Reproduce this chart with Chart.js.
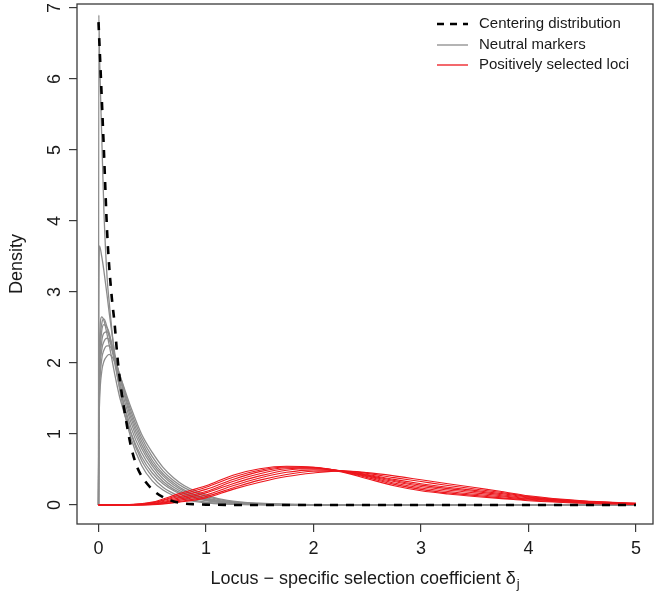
<!DOCTYPE html>
<html lang="en">

<head>
  <meta charset="UTF-8">
  <meta name="viewport" content="width=device-width, initial-scale=1.0">
  <title>Selection coefficient densities</title>
  <script src="https://cdn.jsdelivr.net/npm/chart.js@4/dist/chart.umd.min.js"></script>
  <style>
    html, body {
      margin: 0;
      padding: 0;
      background: #fff;
    }
    .plot-container {
      width: 654px;
      height: 591px;
      position: relative;
    }
  </style>
</head>

<body>
  <div class="plot-container">
    <canvas id="plot"></canvas>
  </div>

  <script>
    const xTicks = [0, 1, 2, 3, 4, 5];
    const yTicks = [0, 1, 2, 3, 4, 5, 6, 7];
    const legendLabels = ['Centering distribution', 'Neutral markers', 'Positively selected loci'];

    // centering distribution (dashed)
    const centeringX = [0, 0.02, 0.05, 0.08, 0.1, 0.125, 0.15, 0.175, 0.2, 0.25, 0.3, 0.35, 0.4, 0.5, 0.6, 0.7, 0.8, 0.9, 1.0, 1.5, 2, 3, 4, 5];
    const centeringY = [6.8, 6.1, 5.0, 3.85, 3.35, 2.9, 2.55, 2.1, 1.75, 1.25, 0.84, 0.57, 0.41, 0.22, 0.11, 0.05, 0.02, 0.01, 0.005, 0, 0, 0, 0, 0];

    // neutral markers (grey)
    const neutralX = [0, 0.003, 0.01, 0.03, 0.05, 0.08, 0.1, 0.15, 0.2, 0.3, 0.4, 0.5, 0.6, 0.7, 0.8, 1.0, 1.2, 1.5, 2.0, 3.0, 4.0, 5.0];
    const neutral1 = [0, 6.9, 6.3, 5.2, 4.15, 3.2, 2.85, 2.1, 1.6, 0.95, 0.56, 0.34, 0.21, 0.13, 0.08, 0.03, 0.012, 0.003, 0, 0, 0, 0];
    const neutral2 = [0, 2.8, 3.65, 3.5, 3.3, 2.95, 2.7, 2.15, 1.68, 1.02, 0.63, 0.4, 0.25, 0.16, 0.1, 0.04, 0.016, 0.004, 0.001, 0, 0, 0];
    const neutral3 = [0, 1.6, 2.3, 2.65, 2.6, 2.4, 2.25, 1.85, 1.5, 1.02, 0.68, 0.45, 0.3, 0.2, 0.13, 0.06, 0.025, 0.008, 0.001, 0, 0, 0];
    const neutral4 = [0, 1.4, 2.1, 2.55, 2.62, 2.5, 2.38, 2.0, 1.63, 1.1, 0.74, 0.5, 0.33, 0.22, 0.15, 0.07, 0.03, 0.01, 0.002, 0, 0, 0];
    const neutral5 = [0, 1.3, 1.95, 2.45, 2.54, 2.5, 2.42, 2.08, 1.72, 1.17, 0.8, 0.55, 0.37, 0.25, 0.17, 0.08, 0.035, 0.012, 0.002, 0, 0, 0];
    const neutral6 = [0, 1.2, 1.85, 2.3, 2.42, 2.44, 2.38, 2.1, 1.78, 1.23, 0.85, 0.59, 0.41, 0.28, 0.19, 0.09, 0.04, 0.014, 0.003, 0, 0, 0];
    const neutral7 = [0, 1.1, 1.75, 2.18, 2.3, 2.35, 2.32, 2.1, 1.8, 1.28, 0.9, 0.63, 0.44, 0.31, 0.21, 0.1, 0.045, 0.016, 0.003, 0, 0, 0];
    const neutral8 = [0, 1.0, 1.6, 2.05, 2.18, 2.24, 2.24, 2.08, 1.82, 1.33, 0.95, 0.68, 0.48, 0.34, 0.24, 0.12, 0.055, 0.02, 0.004, 0, 0, 0];
    const neutral9 = [0, 0.9, 1.45, 1.88, 2.02, 2.1, 2.12, 2.02, 1.82, 1.38, 1.0, 0.74, 0.53, 0.38, 0.27, 0.14, 0.065, 0.024, 0.005, 0, 0, 0];

    // positively selected loci (red)
    const selectedX = [0, 0.25, 0.5, 0.75, 1.0, 1.25, 1.5, 1.75, 2.0, 2.25, 2.5, 2.75, 3.0, 3.25, 3.5, 3.75, 4.0, 4.5, 5.0];
    const selected1 = [0, 0.003, 0.04, 0.16, 0.27, 0.42, 0.51, 0.545, 0.53, 0.47, 0.37, 0.27, 0.2, 0.155, 0.12, 0.09, 0.06, 0.025, 0.01];
    const selected2 = [0, 0.002, 0.033, 0.14, 0.25, 0.39, 0.49, 0.535, 0.53, 0.475, 0.385, 0.29, 0.22, 0.17, 0.135, 0.1, 0.07, 0.03, 0.012];
    const selected3 = [0, 0.002, 0.027, 0.12, 0.22, 0.36, 0.47, 0.525, 0.525, 0.48, 0.4, 0.31, 0.24, 0.19, 0.15, 0.115, 0.08, 0.035, 0.014];
    const selected4 = [0, 0.002, 0.02, 0.1, 0.19, 0.33, 0.44, 0.51, 0.52, 0.48, 0.41, 0.33, 0.26, 0.21, 0.17, 0.13, 0.09, 0.04, 0.016];
    const selected5 = [0, 0.001, 0.016, 0.08, 0.17, 0.3, 0.41, 0.49, 0.51, 0.48, 0.42, 0.345, 0.28, 0.23, 0.19, 0.145, 0.1, 0.045, 0.018];
    const selected6 = [0, 0.001, 0.012, 0.065, 0.14, 0.27, 0.38, 0.46, 0.495, 0.48, 0.43, 0.36, 0.3, 0.25, 0.205, 0.16, 0.11, 0.05, 0.02];
    const selected7 = [0, 0.001, 0.008, 0.05, 0.12, 0.24, 0.35, 0.43, 0.475, 0.48, 0.445, 0.385, 0.33, 0.275, 0.225, 0.175, 0.12, 0.055, 0.022];
    const selected8 = [0, 0.001, 0.005, 0.04, 0.1, 0.22, 0.32, 0.4, 0.45, 0.48, 0.455, 0.41, 0.355, 0.3, 0.245, 0.19, 0.13, 0.06, 0.025];

    const neutralSeries = [neutral1, neutral2, neutral3, neutral4, neutral5, neutral6, neutral7, neutral8, neutral9];
    const selectedSeries = [selected1, selected2, selected3, selected4, selected5, selected6, selected7, selected8];

    const FONT = "'Liberation Sans', Arial, Helvetica, sans-serif";
    const GREY = 'rgb(140, 140, 140)';
    const RED = 'rgb(236, 22, 28)';
    const AXIS = '#3a3a3a';

    function toPoints(xs, ys) {
      return xs.map((x, i) => ({ x: x, y: ys[i] }));
    }

    const datasets = [];
    datasets.push({
      label: legendLabels[0],
      data: toPoints(centeringX, centeringY),
      borderColor: '#000',
      borderWidth: 2.6,
      borderDash: [8, 8],
      order: 0
    });
    selectedSeries.forEach((ys, i) => {
      datasets.push({
        label: legendLabels[2] + ' ' + (i + 1),
        data: toPoints(selectedX, ys),
        borderColor: RED,
        borderWidth: 1.1,
        order: 1
      });
    });
    neutralSeries.forEach((ys, i) => {
      datasets.push({
        label: legendLabels[1] + ' ' + (i + 1),
        data: toPoints(neutralX, ys),
        borderColor: GREY,
        borderWidth: 1.3,
        order: 2
      });
    });

    // box around plot area, legend, x title with subscript
    const decorations = {
      id: 'decorations',
      afterDraw(chart) {
        const ctx = chart.ctx;
        const a = chart.chartArea;
        ctx.save();
        ctx.strokeStyle = AXIS;
        ctx.lineWidth = 1.3;
        ctx.strokeRect(a.left, a.top, a.right - a.left, a.bottom - a.top);

        // legend
        const rows = [
          { y: 24, color: '#000', width: 2.6, dash: [7, 6] },
          { y: 45, color: GREY, width: 1.3, dash: [] },
          { y: 65, color: RED, width: 1.3, dash: [] }
        ];
        ctx.font = '15px ' + FONT;
        ctx.textBaseline = 'middle';
        ctx.textAlign = 'left';
        rows.forEach((r, i) => {
          ctx.beginPath();
          ctx.setLineDash(r.dash);
          ctx.strokeStyle = r.color;
          ctx.lineWidth = r.width;
          ctx.moveTo(437, r.y);
          ctx.lineTo(468, r.y);
          ctx.stroke();
          ctx.setLineDash([]);
          ctx.fillStyle = '#1a1a1a';
          ctx.fillText(legendLabels[i], 479, r.y);
        });

        // x axis title
        const main = 'Locus \u2212 specific selection coefficient \u03B4';
        ctx.font = '18px ' + FONT;
        const w1 = ctx.measureText(main).width;
        ctx.font = '13px ' + FONT;
        const w2 = ctx.measureText('j').width;
        const cx = (a.left + a.right) / 2;
        const x0 = cx - (w1 + w2 + 1) / 2;
        ctx.fillStyle = '#1a1a1a';
        ctx.textBaseline = 'alphabetic';
        ctx.font = '18px ' + FONT;
        ctx.fillText(main, x0, 584);
        ctx.font = '13px ' + FONT;
        ctx.fillText('j', x0 + w1 + 1, 588);
        ctx.restore();
      }
    };

    Chart.defaults.font.family = FONT;
    Chart.defaults.color = '#1a1a1a';

    const config = {
      type: 'line',
      data: { datasets },
      options: {
        responsive: true,
        maintainAspectRatio: false,
        animation: false,
        layout: { padding: { top: 4, right: 1, left: 0, bottom: 0 } },
        elements: {
          point: { radius: 0 },
          line: { cubicInterpolationMode: 'monotone', fill: false }
        },
        plugins: {
          legend: { display: false },
          tooltip: { enabled: false }
        },
        scales: {
          x: {
            type: 'linear',
            min: -0.2,
            max: 5.158,
            afterBuildTicks: (scale) => { scale.ticks = xTicks.map(v => ({ value: v })); },
            afterFit: (scale) => { scale.height = 67; scale.paddingLeft = 0; scale.paddingRight = 0; },
            grid: { drawOnChartArea: false, tickLength: 8, color: AXIS, lineWidth: 1.2 },
            border: { display: false },
            ticks: { font: { size: 18 }, padding: 6, color: '#1a1a1a', maxRotation: 0 }
          },
          y: {
            type: 'linear',
            min: -0.268,
            max: 7.056,
            afterBuildTicks: (scale) => { scale.ticks = yTicks.map(v => ({ value: v })); },
            afterFit: (scale) => { scale.width = 77; scale.paddingTop = 0; scale.paddingBottom = 0; },
            grid: { drawOnChartArea: false, tickLength: 8, color: AXIS, lineWidth: 1.2 },
            border: { display: false },
            ticks: { font: { size: 18 }, padding: 9, color: '#1a1a1a', minRotation: 90, maxRotation: 90, crossAlign: 'center' },
            title: { display: true, text: 'Density', font: { size: 18 }, padding: { top: 6, bottom: 0 }, color: '#1a1a1a' }
          }
        }
      },
      plugins: [decorations]
    };

    const plot = new Chart(document.getElementById('plot'), config);
  </script>
</body>

</html>
